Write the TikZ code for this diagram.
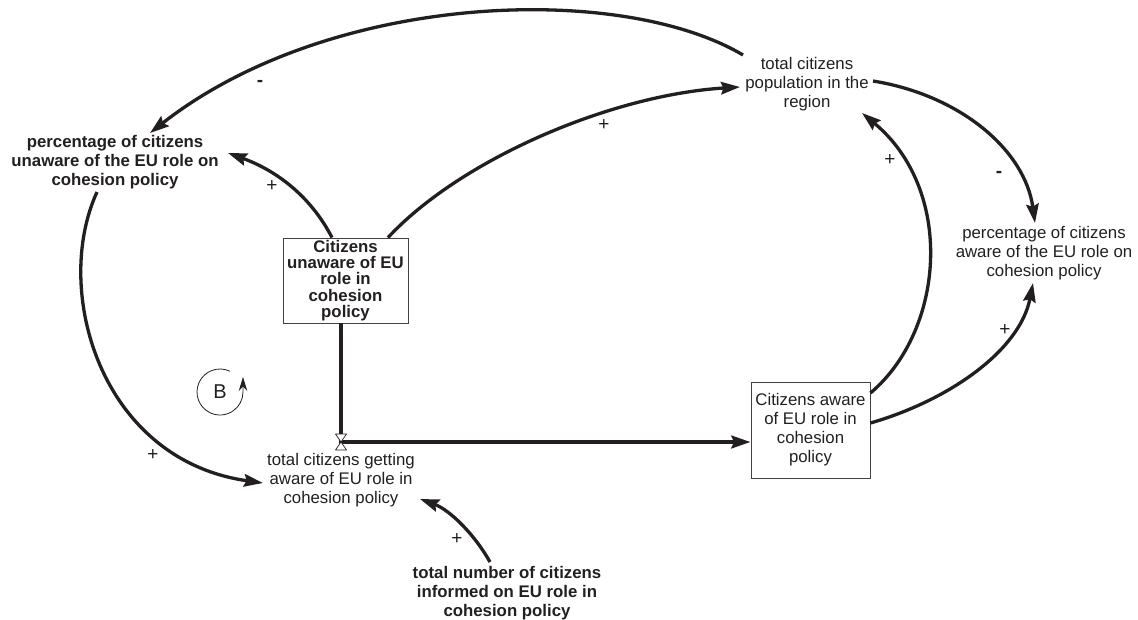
\documentclass[tikz,border=0pt]{standalone}
\usepackage{fontspec}
\setmainfont{Liberation Sans}
\usetikzlibrary{arrows.meta,calc}
\definecolor{ink}{HTML}{231F20}

\begin{document}
\begin{tikzpicture}[x=1pt,y=-1pt,
  txt/.style={align=center, inner sep=0pt, text=ink, font=\fontsize{16.8}{19}\selectfont},
  bold/.style={txt, font=\fontsize{16.8}{19}\selectfont\bfseries},
  stock/.style={draw=ink!85, line width=0.9pt, align=center, inner sep=0pt, text=ink},
  headtip/.style={-{Stealth[length=19pt,width=12.5pt,inset=2.5pt]}},
  link/.style={draw=ink, line width=3.3pt, headtip},
  sign/.style={text=ink, inner sep=0pt, font=\fontsize{19}{22}\selectfont},
  minus/.style={sign, font=\fontsize{19}{22}\selectfont\bfseries},
  valvepart/.style={draw=ink, line width=0.7pt, fill=white, line join=round}
]
\useasboundingbox (0,0) rectangle (1138,619);

% variables
\node[bold] (pu) at (115,162) {percentage of citizens\\unaware of the EU role on\\cohesion policy};
\node[txt] (pop) at (807,84) {total citizens\\population in the\\region};
\node[txt] (pa) at (1044,253) {percentage of citizens\\aware of the EU role on\\cohesion policy};
\node[txt] (ga) at (341,480) {total citizens getting\\aware of EU role in\\cohesion policy};
\node[bold] (inf) at (507,593) {total number of citizens\\informed on EU role in\\cohesion policy};

% stocks
\node[stock, minimum width=125pt, minimum height=85pt,
      font=\fontsize{16.8}{16.3}\selectfont\bfseries] (cu) at (345.5,280.5)
      {Citizens\\unaware of EU\\role in\\cohesion\\policy};
\node[stock, minimum width=119pt, minimum height=96pt,
      font=\fontsize{16.8}{19}\selectfont] (ca) at (810.5,430)
      {Citizens aware\\of EU role in\\cohesion\\policy};

% flow with valve
\coordinate (valve) at (341,442);
\draw[draw=ink, line width=4pt, headtip]
  ([shift={(-4.5,0)}]cu.south) -- (valve) -- (valve -| ca.west);
\draw[valvepart] ($(valve)+(-5.5,-8)$) -- ($(valve)+(5.5,-8)$) -- (valve) -- cycle;
\draw[valvepart] ($(valve)+(-5.5,8)$) -- ($(valve)+(5.5,8)$) -- (valve) -- cycle;

% causal links
\draw[link] ([shift={(-64,-29)}]pop.center) .. controls (620,-18) and (330,-8) .. ([shift={(35,-29)}]pu.center);
\draw[link] ([shift={(-13.5,0)}]cu.north) .. controls (310,195) and (275,170) .. ([shift={(113,-9)}]pu.center);
\draw[link] ([shift={(42.5,0)}]cu.north) .. controls (460,160) and (610,95) .. ([shift={(-67,3)}]pop.center);
\draw[link] ([shift={(-18,30)}]pu.center) .. controls (52,290) and (100,460) .. ([shift={(-78,3)}]ga.center);
\draw[link] ([shift={(-17,-31)}]inf.center) .. controls (475,535) and (450,510) .. ([shift={(79,19)}]ga.center);
\draw[link] ([shift={(66,-3)}]pop.center) .. controls (960,95) and (1025,150) .. ([shift={(-9,-30)}]pa.center);
\draw[link] ([shift={(0,-37)}]ca.east) .. controls (945,330) and (955,190) .. ([shift={(55,29)}]pop.center);
\draw[link] ([shift={(0,-7)}]ca.east) .. controls (950,400) and (1020,350) .. ([shift={(-11,30)}]pa.center);

% polarities
\node[minus] (m1) at (260,83) {-};
\node[sign] (p1) at (272,186) {+};
\node[sign] (p2) at (604,125) {+};
\node[minus] (m2) at (999,174) {-};
\node[sign] (p3) at (890,160) {+};
\node[sign] (p4) at (1005,330) {+};
\node[sign] (p5) at (153,455) {+};
\node[sign] (p6) at (457,539) {+};

% balancing loop marker
\node[text=ink, inner sep=0pt, font=\fontsize{20}{24}\selectfont] (loopB) at (220,392) {B};
\draw[draw=ink, line width=0.8pt, -{Stealth[length=14pt,width=8.5pt]}]
  ([shift={(65:23pt)}]loopB.center) arc[start angle=65, end angle=360, radius=23pt] -- ++(0,-15);
\end{tikzpicture}
\end{document}
